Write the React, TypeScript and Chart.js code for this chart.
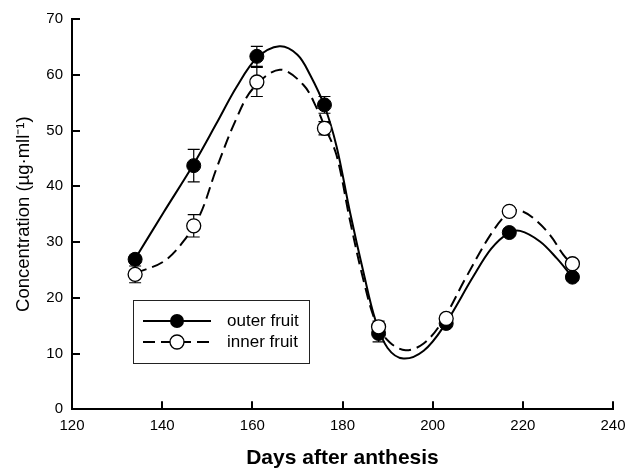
import React, { useEffect, useRef } from "react";
import { Chart, registerables } from "chart.js";

Chart.register(...registerables);

// Sampling days and measured means (μg·ml⁻¹)
const days = [134, 147, 161, 176, 188, 203, 217, 231];
const outerMean = [26.9, 43.7, 63.3, 54.6, 13.6, 15.4, 31.7, 23.7];
const outerErr = [0.6, 2.9, 1.8, 1.5, 1.5, 0.6, 0.6, 0.6];
const innerMean = [24.2, 32.9, 58.7, 50.4, 14.8, 16.3, 35.5, 26.1];
const innerErr = [1.5, 2.0, 2.6, 1.2, 1.0, 0.6, 0.6, 0.6];

// Fitted curves
const outerFitDays = [134, 140.3, 147, 152, 156.5, 161, 166, 170, 172.8, 176, 178.7, 181.7, 184.7, 187.3, 190, 193.5, 198, 202.4, 209, 213, 216.8, 219.4, 223.8, 227.5, 231];
const outerFitVals = [27.0, 35.3, 44.0, 51.2, 57.8, 63.0, 65.1, 63.6, 60.0, 54.4, 47.1, 35.2, 24.4, 16.0, 11.0, 9.1, 10.5, 14.8, 23.8, 28.8, 31.6, 32.0, 30.1, 27.1, 23.7];
const innerFitDays = [134, 140.3, 144.7, 148.4, 152.1, 156.5, 160.2, 166.1, 171.3, 174.3, 176, 178.7, 181.7, 184.7, 187.5, 190.5, 194, 198, 202, 207.5, 213, 217, 219.5, 222.3, 226, 229, 231];
const innerFitVals = [24.4, 26.5, 30.1, 34.9, 43.3, 52.2, 57.6, 60.9, 58.2, 54.0, 50.8, 45.5, 33.7, 23.0, 15.4, 12.0, 10.6, 11.8, 15.6, 23.8, 31.5, 35.4, 35.6, 34.3, 31.3, 27.7, 25.9];

const seriesNames = ["outer fruit", "inner fruit"];
const xTitle = "Days after anthesis";
const yTitle = "Concentration (µg·mll⁻¹)";

const FONT = "'Liberation Sans', Arial, Helvetica, sans-serif";

const pts = (xs: number[], ys: number[]) => xs.map((x, i) => ({ x, y: ys[i] }));

const errorBarPlugin = {
  id: "errorBars",
  beforeDatasetsDraw(chart: any) {
    const { ctx, scales } = chart;
    const xs = scales.x, ys = scales.y;
    ctx.save();
    ctx.strokeStyle = "#000";
    ctx.lineWidth = 1.2;
    const draw = (means: number[], errs: number[]) => {
      days.forEach((d, i) => {
        const px = xs.getPixelForValue(d);
        const top = ys.getPixelForValue(means[i] + errs[i]);
        const bot = ys.getPixelForValue(means[i] - errs[i]);
        ctx.beginPath();
        ctx.moveTo(px, top); ctx.lineTo(px, bot);
        ctx.moveTo(px - 6, top); ctx.lineTo(px + 6, top);
        ctx.moveTo(px - 6, bot); ctx.lineTo(px + 6, bot);
        ctx.stroke();
      });
    };
    draw(outerMean, outerErr);
    draw(innerMean, innerErr);
    ctx.restore();
  },
};

const ticksLegendPlugin = {
  id: "ticksLegend",
  afterDraw(chart: any) {
    const { ctx, scales, chartArea } = chart;
    const xs = scales.x, ys = scales.y;
    ctx.save();
    ctx.strokeStyle = "#000";
    ctx.lineWidth = 2;
    ctx.beginPath();
    xs.ticks.forEach((t: any) => {
      const px = Math.round(xs.getPixelForValue(t.value));
      ctx.moveTo(px, chartArea.bottom);
      ctx.lineTo(px, chartArea.bottom - 8);
    });
    ys.ticks.forEach((t: any) => {
      const py = Math.round(ys.getPixelForValue(t.value));
      ctx.moveTo(chartArea.left, py);
      ctx.lineTo(chartArea.left + 8, py);
    });
    ctx.stroke();

    // legend box
    const bx = 133.5, by = 300.5, bw = 176, bh = 63;
    ctx.lineWidth = 1;
    ctx.strokeStyle = "#222";
    ctx.strokeRect(bx, by, bw, bh);
    const rows = [321, 342];
    // outer sample
    ctx.strokeStyle = "#000";
    ctx.lineWidth = 2;
    ctx.setLineDash([]);
    ctx.beginPath();
    ctx.moveTo(143, rows[0]); ctx.lineTo(211, rows[0]);
    ctx.stroke();
    ctx.beginPath();
    ctx.arc(177, rows[0], 7, 0, Math.PI * 2);
    ctx.fillStyle = "#000";
    ctx.fill();
    // inner sample
    ctx.setLineDash([12, 6]);
    ctx.beginPath();
    ctx.moveTo(143, rows[1]); ctx.lineTo(211, rows[1]);
    ctx.stroke();
    ctx.setLineDash([]);
    ctx.beginPath();
    ctx.arc(177, rows[1], 7, 0, Math.PI * 2);
    ctx.fillStyle = "#fff";
    ctx.fill();
    ctx.lineWidth = 1.3;
    ctx.stroke();
    ctx.fillStyle = "#000";
    ctx.font = `17px ${FONT}`;
    ctx.textBaseline = "middle";
    ctx.textAlign = "left";
    ctx.fillText(seriesNames[0], 227, rows[0]);
    ctx.fillText(seriesNames[1], 227, rows[1]);
    ctx.restore();
  },
};

export default function App() {
  const ref = useRef<HTMLCanvasElement>(null);
  useEffect(() => {
    if (!ref.current) return;
    const chart = new Chart(ref.current, {
      type: "scatter",
      data: {
        datasets: [
          {
            label: seriesNames[1] + " points",
            data: pts(days, innerMean),
            showLine: false,
            pointRadius: 7,
            pointBackgroundColor: "#fff",
            pointBorderColor: "#000",
            pointBorderWidth: 1.3,
            order: 0,
          },
          {
            label: seriesNames[0] + " points",
            data: pts(days, outerMean),
            showLine: false,
            pointRadius: 7,
            pointBackgroundColor: "#000",
            pointBorderColor: "#000",
            pointBorderWidth: 1,
            order: 1,
          },
          {
            label: seriesNames[1] + " fit",
            data: pts(innerFitDays, innerFitVals),
            showLine: true,
            pointRadius: 0,
            borderColor: "#000",
            borderWidth: 2,
            borderDash: [12, 6],
            tension: 0.35,
            order: 2,
          },
          {
            label: seriesNames[0] + " fit",
            data: pts(outerFitDays, outerFitVals),
            showLine: true,
            pointRadius: 0,
            borderColor: "#000",
            borderWidth: 2,
            tension: 0.35,
            order: 3,
          },
        ],
      },
      options: {
        responsive: false,
        animation: false,
        layout: { padding: { left: 0, top: 19, right: 24, bottom: 0 } },
        plugins: { legend: { display: false }, tooltip: { enabled: false } },
        scales: {
          x: {
            type: "linear",
            min: 120,
            max: 240,
            grid: { display: false, drawTicks: false },
            border: { display: true, color: "#000", width: 2 },
            ticks: { stepSize: 20, padding: 8, color: "#000", font: { family: FONT, size: 15 } },
            title: {
              display: true,
              text: xTitle,
              color: "#000",
              font: { family: FONT, size: 21, weight: "bold" },
              padding: { top: 0, bottom: 0 },
            },
            afterFit: (s: any) => { s.height = 61.7; },
          },
          y: {
            type: "linear",
            min: 0,
            max: 70,
            grid: { display: false, drawTicks: false },
            border: { display: true, color: "#000", width: 2 },
            ticks: { stepSize: 10, padding: 9, color: "#000", font: { family: FONT, size: 15 } },
            title: {
              display: true,
              text: yTitle,
              color: "#000",
              font: { family: FONT, size: 18.5 },
              padding: { top: 13, bottom: 0 },
            },
            afterFit: (s: any) => { s.width = 72; },
          },
        },
      },
      plugins: [errorBarPlugin, ticksLegendPlugin],
    });
    return () => chart.destroy();
  }, []);
  return (
    <div style={{ position: "absolute", left: 0, top: 0, width: 637, height: 471, background: "#fff" }}>
      <canvas ref={ref} width={637} height={471} />
    </div>
  );
}
